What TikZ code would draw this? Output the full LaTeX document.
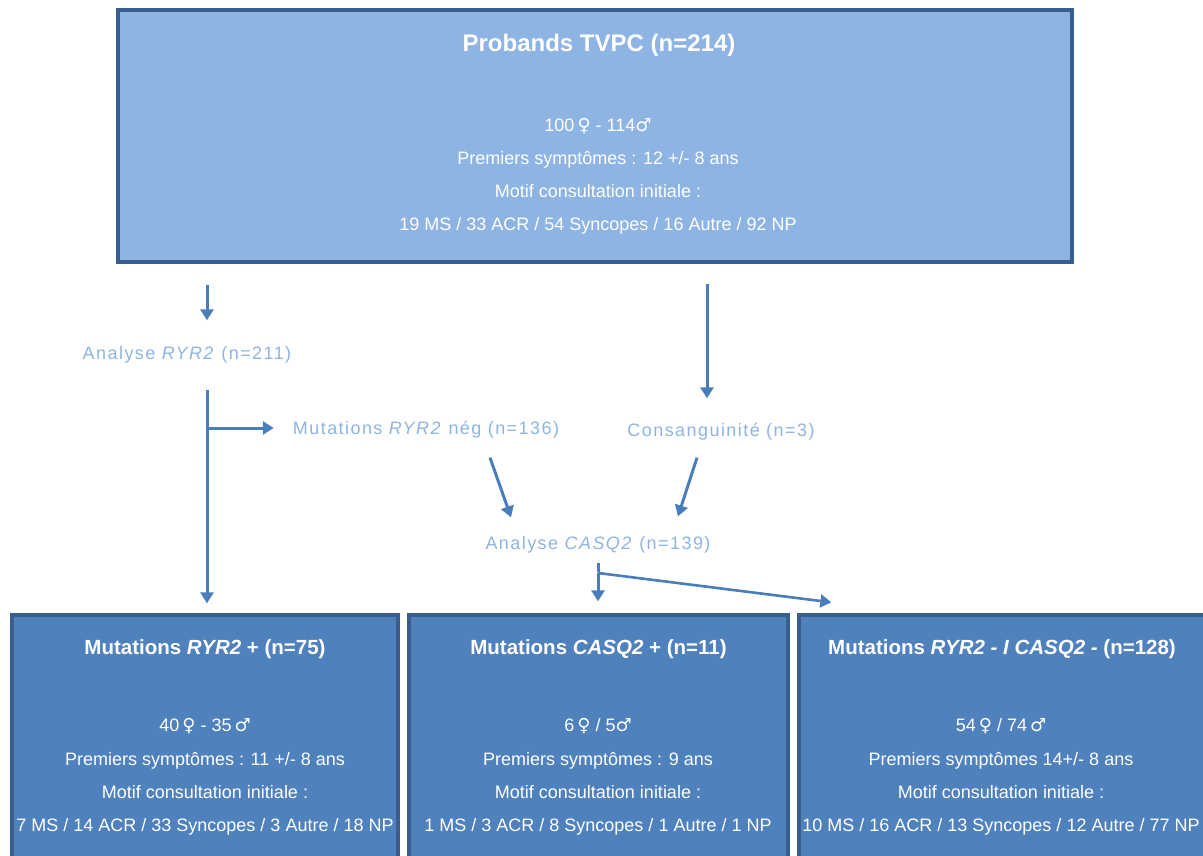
\documentclass[tikz,border=0pt]{standalone}
\usepackage{fontspec}
\setmainfont{Liberation Sans}
\newfontfamily\symfont{DejaVu Sans}
\usetikzlibrary{arrows.meta}

\definecolor{boxlight}{HTML}{8EB4E3}
\definecolor{boxdark}{HTML}{4F81BD}
\definecolor{edgeblue}{HTML}{3A5F8E}
\definecolor{arrowblue}{HTML}{4A7EBB}
\definecolor{textlight}{HTML}{8EB4E3}

\newcommand{\fem}{{\symfont ♀}}
\newcommand{\masc}{{\symfont ♂}}

\begin{document}
\begin{tikzpicture}[x=1pt, y=-1pt, >={Triangle[length=11pt, width=13pt]},
	topbox/.style={draw=edgeblue, fill=boxlight, line width=3.3pt, inner sep=0pt},
	lowbox/.style={draw=edgeblue, fill=boxdark, line width=3.3pt, inner sep=0pt},
	boxtitle/.style={text=white, inner sep=0pt, font=\fontsize{20.5}{24}\selectfont\bfseries},
	boxline/.style={text=white, inner sep=0pt, text height=13pt, text depth=4pt, font=\fontsize{18}{22}\selectfont},
	flowtext/.style={text=textlight, inner sep=0pt, text height=13pt, text depth=4pt, font=\fontsize{18}{22}\selectfont\addfontfeature{LetterSpace=8}},
	arr/.style={->, draw=arrowblue, line width=3pt}]
	
	\useasboundingbox (0,0) rectangle (1203,856);
	
	% ==================== Probands ====================
	\node[topbox, minimum width=954pt, minimum height=252pt] (probands) at (595,136) {};
	\node[boxtitle, font=\fontsize{24}{28}\selectfont\bfseries] (probTitle) at (599,45) {Probands TVPC (n=214)};
	\node[boxline] (probSex) at (598,127) {100\,\fem\ - 114\masc};
	\node[boxline] (probAge) at (598,160) {Premiers symptômes : 12 +/- 8 ans};
	\node[boxline] (probMotif) at (598,193) {Motif consultation initiale :};
	\node[boxline] (probCount) at (598,226) {19 MS / 33 ACR / 54 Syncopes / 16 Autre / 92 NP};
	
	% ==================== Analyses ====================
	\node[flowtext] (anaRYR) at (187,355) {Analyse \textit{RYR2} (n=211)};
	\node[flowtext] (negRYR) at (426,430) {Mutations \textit{RYR2} nég (n=136)};
	\node[flowtext] (consang) at (721,432) {Consanguinité (n=3)};
	\node[flowtext] (anaCASQ) at (598,545) {Analyse \textit{CASQ2} (n=139)};
	
	% ==================== Résultats ====================
	\node[lowbox, minimum width=386pt, minimum height=256pt] (ryrPos) at (205,743) {};
	\node[boxtitle] (ryrTitle) at (205,649) {Mutations \textit{RYR2} + (n=75)};
	\node[boxline] (ryrSex) at (205,727) {40\,\fem\ - 35\,\masc};
	\node[boxline] (ryrAge) at (205,761) {Premiers symptômes : 11 +/- 8 ans};
	\node[boxline] (ryrMotif) at (205,794) {Motif consultation initiale :};
	\node[boxline] (ryrCount) at (205,827) {7 MS / 14 ACR / 33 Syncopes / 3 Autre / 18 NP};
	
	\node[lowbox, minimum width=379pt, minimum height=256pt] (casqPos) at (598.5,743) {};
	\node[boxtitle] (casqTitle) at (598.5,649) {Mutations \textit{CASQ2} + (n=11)};
	\node[boxline] (casqSex) at (598,727) {6\,\fem\ / 5\masc};
	\node[boxline] (casqAge) at (598,761) {Premiers symptômes : 9 ans};
	\node[boxline] (casqMotif) at (598,794) {Motif consultation initiale :};
	\node[boxline] (casqCount) at (598,827) {1 MS / 3 ACR / 8 Syncopes / 1 Autre / 1 NP};
	
	\node[lowbox, minimum width=416pt, minimum height=256pt] (mutNeg) at (1007,743) {};
	\node[boxtitle] (negTitle) at (1002,649) {Mutations \textit{RYR2 - I CASQ2 -} (n=128)};
	\node[boxline] (negSex) at (1001,727) {54\,\fem\ / 74\,\masc};
	\node[boxline] (negAge) at (1001,761) {Premiers symptômes 14+/- 8 ans};
	\node[boxline] (negMotif) at (1001,794) {Motif consultation initiale :};
	\node[boxline] (negCount) at (1001,827) {10 MS / 16 ACR / 13 Syncopes / 12 Autre / 77 NP};
	
	% points de branchement
	\coordinate (jRyr) at (207,428);
	\coordinate (jCasq) at (598,573);
	
	% flèches
	\draw[arr, shorten <=21pt, shorten >=26pt] (probands.south -| jRyr) -- (anaRYR.north -| jRyr);
	\draw[arr, shorten <=20pt] ([xshift=112pt]probands.south) -- ([xshift=-14pt, yshift=25pt]consang.north);
	\draw[arr, shorten <=26pt, shorten >=10pt] (anaRYR.south -| jRyr) -- (ryrPos.north -| jRyr);
	\draw[arr, shorten >=19pt] (jRyr) -- (jRyr -| negRYR.west);
	\draw[arr] ([xshift=64pt, yshift=-19pt]negRYR.south) -- ([xshift=-87pt, yshift=19pt]anaCASQ.north);
	\draw[arr] ([xshift=-24pt, yshift=-17pt]consang.south) -- ([xshift=80pt, yshift=20pt]anaCASQ.north);
	\draw[arr, shorten >=12pt] (jCasq) -- (casqPos.north -| jCasq);
	\draw[arr, line width=2.6pt] (jCasq) -- ([xshift=34pt, yshift=11pt]mutNeg.north west);
	\draw[draw=arrowblue, line width=3pt] ([yshift=1.5pt]jCasq) -- ([yshift=-9pt]anaCASQ.south -| jCasq);
	
\end{tikzpicture}
\end{document}
